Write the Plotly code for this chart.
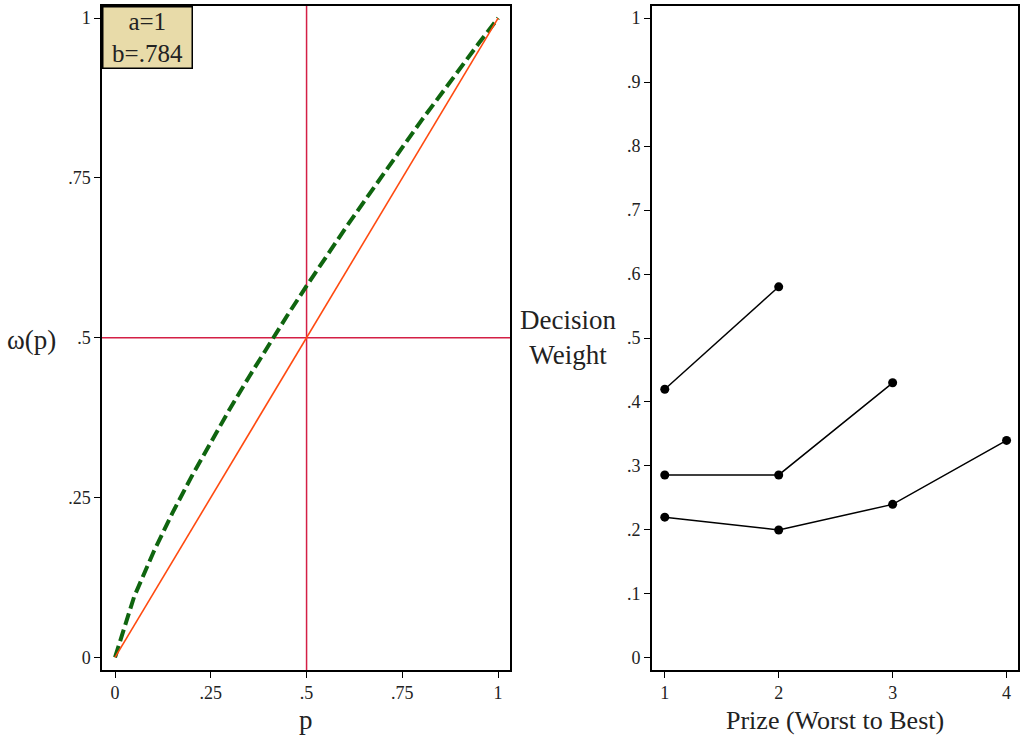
import plotly.graph_objects as go

# Left panel: probability weighting
p_vals = [0, 0.05, 0.1, 0.15, 0.2, 0.25, 0.3, 0.35, 0.4, 0.45, 0.5, 0.55, 0.6, 0.65, 0.7, 0.75, 0.8, 0.85, 0.9, 0.95, 1]
w_vals = [0, 0.095, 0.164, 0.226, 0.283, 0.337, 0.389, 0.439, 0.488, 0.535, 0.581, 0.626, 0.670, 0.713, 0.756, 0.798, 0.840, 0.880, 0.921, 0.961, 1]
diag_p = [0, 1]
diag_w = [0, 1]
ref_p = 0.5
ref_w = 0.5
left_ticks = [0, 0.25, 0.5, 0.75, 1]
left_ticktext = ["0", ".25", ".5", ".75", "1"]

# Right panel: decision weights
prizes_2 = [1, 2]
weights_2 = [0.42, 0.58]
prizes_3 = [1, 2, 3]
weights_3 = [0.286, 0.286, 0.43]
prizes_4 = [1, 2, 3, 4]
weights_4 = [0.22, 0.20, 0.24, 0.34]
right_yticks = [0, .1, .2, .3, .4, .5, .6, .7, .8, .9, 1]
right_yticktext = ["0", ".1", ".2", ".3", ".4", ".5", ".6", ".7", ".8", ".9", "1"]
right_xticks = [1, 2, 3, 4]

FONT = "Liberation Serif"
RED = "#d41f45"

fig = go.Figure()
# reference lines
fig.add_trace(go.Scatter(x=[ref_p, ref_p], y=[-0.03, 1.03], mode="lines",
                         line=dict(color=RED, width=1.5), xaxis="x", yaxis="y", showlegend=False))
fig.add_trace(go.Scatter(x=[-0.04, 1.04], y=[ref_w, ref_w], mode="lines",
                         line=dict(color=RED, width=1.5), xaxis="x", yaxis="y", showlegend=False))
fig.add_trace(go.Scatter(x=p_vals, y=w_vals, mode="lines",
                         line=dict(color="#0f650f", width=4, dash="12px,5px"),
                         xaxis="x", yaxis="y", showlegend=False))
fig.add_trace(go.Scatter(x=diag_p, y=diag_w, mode="lines",
                         line=dict(color="#ff4a10", width=1.6), xaxis="x", yaxis="y", showlegend=False))

for xs, ys in [(prizes_2, weights_2), (prizes_3, weights_3), (prizes_4, weights_4)]:
    fig.add_trace(go.Scatter(x=xs, y=ys, mode="lines+markers",
                             line=dict(color="black", width=1.5),
                             marker=dict(color="black", size=9),
                             xaxis="x2", yaxis="y2", showlegend=False))

axis_common = dict(showgrid=False, zeroline=False, showline=True, linecolor="black",
                   linewidth=1.5, mirror=True, ticks="outside", ticklen=6, tickwidth=1,
                   tickcolor="black", tickfont=dict(family=FONT, size=18, color="#222"))

fig.update_layout(
    width=1020, height=738,
    margin=dict(l=0, r=0, t=0, b=0),
    plot_bgcolor="white", paper_bgcolor="white",
    font=dict(family=FONT, color="#222"),
    xaxis=dict(domain=[0.1, 0.5], range=[-0.034, 1.031], tickvals=left_ticks,
               ticktext=left_ticktext, anchor="y", **axis_common),
    yaxis=dict(domain=[0.092, 0.992], range=[-0.020, 1.019], tickvals=left_ticks,
               ticktext=left_ticktext, anchor="x", **axis_common),
    xaxis2=dict(domain=[0.639, 0.998], range=[0.886, 4.10], tickvals=right_xticks,
                anchor="y2", **axis_common),
    yaxis2=dict(domain=[0.092, 0.992], range=[-0.019, 1.019], tickvals=right_yticks,
                ticktext=right_yticktext, anchor="x2", **axis_common),
)

title_font = dict(family=FONT, size=27, color="#222")
fig.add_annotation(xref="paper", yref="paper", x=0.3, y=0.0244, xanchor="center", yanchor="middle",
                   text="p", showarrow=False, font=title_font)
fig.add_annotation(xref="paper", yref="paper", x=0.031, y=0.539, xanchor="center", yanchor="middle",
                   text="ω(p)", showarrow=False, font=title_font)
fig.add_annotation(xref="paper", yref="paper", x=0.557, y=0.543, xanchor="center", yanchor="middle",
                   text="Decision<br>Weight", showarrow=False, font=title_font)
fig.add_annotation(xref="paper", yref="paper", x=0.819, y=0.024, xanchor="center", yanchor="middle",
                   text="Prize (Worst to Best)", showarrow=False, font=dict(family=FONT, size=26, color="#222"))
fig.add_annotation(xref="paper", yref="paper", x=0.1, y=0.992, xanchor="left", yanchor="top",
                   text="a=1<br>b=.784", showarrow=False, align="center",
                   width=84, height=56,
                   bgcolor="#e8dba9", bordercolor="black", borderwidth=1.5, borderpad=2,
                   font=dict(family=FONT, size=25, color="#222"))

fig.write_html("out.html", config={"displayModeBar": False},
               post_script="document.body.style.margin='0';")
